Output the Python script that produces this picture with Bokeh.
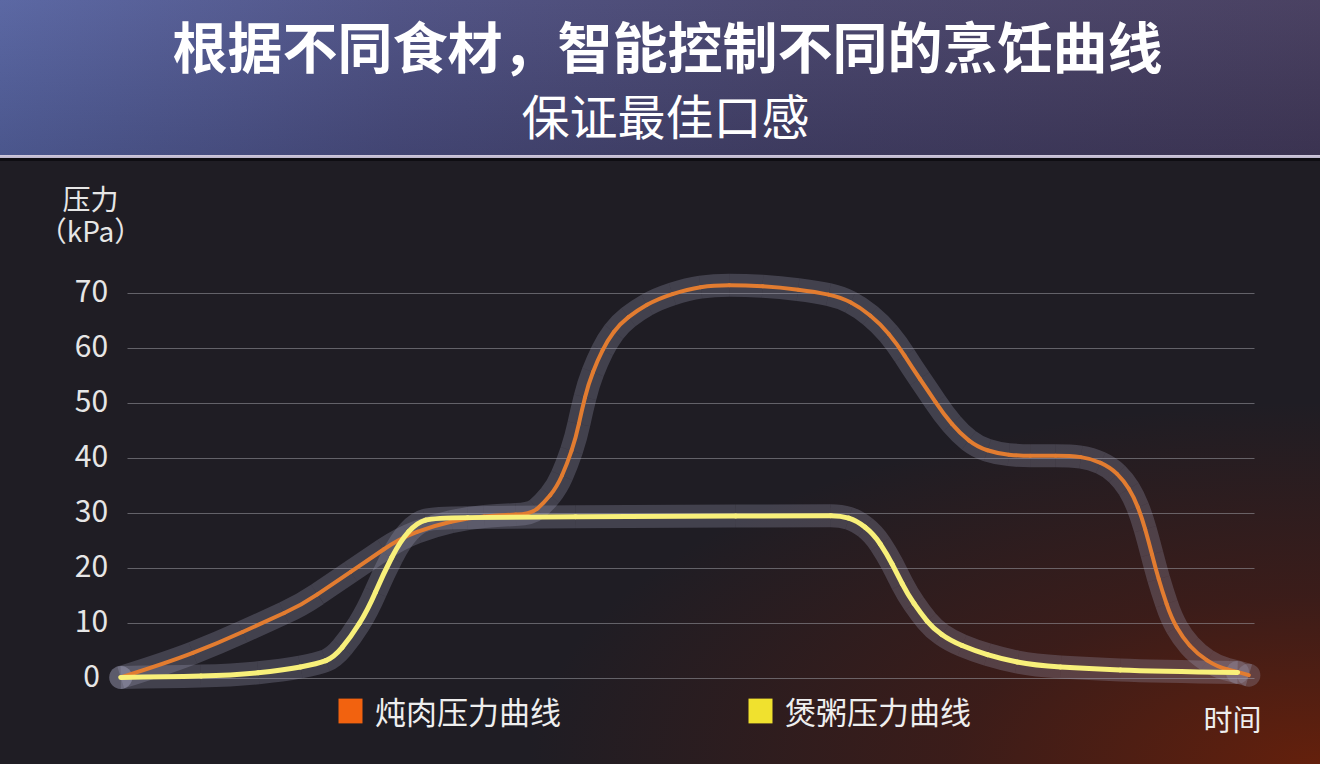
import numpy as np
from bokeh.plotting import figure
from bokeh.models import Label, Legend, LegendItem, Range1d
from bokeh.core.properties import value
from bokeh.embed import file_html
from bokeh.resources import INLINE

# 时间 (0-100) / 压力 (kPa)
stew_t = [-0.6, 3.6, 8.0, 12.4, 15.4, 18.3, 21.3, 24.2, 27.2, 30.2, 33.1, 35.8,
          36.9, 38.1, 39.0, 39.8, 40.3, 40.9, 41.7, 42.6, 43.7, 45.2, 47.0, 49.7,
          52.0, 54.8, 57.9, 61.1, 63.3, 65.0, 66.8, 68.3, 69.6, 71.0, 72.4, 73.9,
          75.4, 77.2, 79.2, 81.0, 83.7, 85.5, 87.2, 88.4, 89.3, 90.0, 90.6, 91.2,
          91.8, 92.6, 93.6, 94.9, 96.7, 98.5, 99.5]
stew_p = [0.2, 2.9, 6.4, 10.5, 13.3, 17.3, 21.5, 25.5, 27.8, 29.2, 29.7, 29.9,
          31.8, 34.8, 39.0, 43.9, 48.7, 53.6, 57.8, 61.5, 64.5, 66.9, 69.0, 70.8,
          71.5, 71.5, 71.1, 70.3, 69.3, 67.5, 64.5, 60.8, 56.6, 52.4, 48.1, 44.5,
          42.1, 40.9, 40.5, 40.5, 40.5, 40.0, 38.4, 36.0, 33.0, 29.3, 25.0, 20.2,
          16.0, 11.1, 7.5, 4.5, 2.1, 1.2, 0.6]

porridge_t = [-0.6, 3.6, 9.4, 13.8, 16.9, 18.3, 19.8, 21.3, 22.7, 24.2, 25.7, 27.2,
              33.1, 46.4, 61.5, 63.3, 64.7, 66.2, 67.4, 68.3, 69.2, 70.4, 71.5, 73.0,
              75.1, 77.5, 80.4, 85.2, 91.0, 98.5]
porridge_p = [0.2, 0.3, 0.6, 1.5, 2.7, 3.8, 7.5, 12.4, 19.0, 25.0, 28.4, 29.2,
              29.3, 29.5, 29.6, 29.6, 28.7, 26.3, 22.6, 19.0, 15.4, 11.8, 9.1, 6.9,
              5.1, 3.6, 2.4, 1.8, 1.3, 1.1]

y_ticks = [0, 10, 20, 30, 40, 50, 60, 70]
y_tick_labels = [str(v) for v in y_ticks]
grid_start, grid_end = 0, 100

series_names = ["炖肉压力曲线", "煲粥压力曲线"]
line_colors = ["#e27c30", "#f8f07a"]
legend_colors = ["#f2620f", "#f0e12e"]

FONT = "Noto Sans CJK SC"
W, H = 1320, 764


# page pixel -> data coordinates, for placing texts
def tx(px):
    return (px - 127) / 11.27


def ty(py):
    return (678 - py) / 5.5


# smooth drawing of a polyline: quadratic pieces through the midpoints,
# the read points themselves act as control points
def smooth(xs, ys):
    mx = [(a + b) / 2 for a, b in zip(xs[:-1], xs[1:])]
    my = [(a + b) / 2 for a, b in zip(ys[:-1], ys[1:])]
    return dict(x0=[xs[0]] + mx[1:-1], y0=[ys[0]] + my[1:-1],
                x1=mx[1:-1] + [xs[-1]], y1=my[1:-1] + [ys[-1]],
                cx=xs[1:-1], cy=ys[1:-1])


p = figure(width=W, height=H, output_backend="svg", toolbar_location=None,
           x_range=Range1d(tx(0), tx(W)), y_range=Range1d(ty(H), ty(0)),
           x_axis_location=None, y_axis_location=None,
           min_border=0, min_border_left=0, min_border_right=0,
           min_border_top=0, min_border_bottom=0)

p.styles = {
    "background": (
        "linear-gradient(180deg, rgba(255,255,255,0.04), rgba(0,0,0,0.12)) 0 0/100% 155px no-repeat, "
        "linear-gradient(90deg, #5562a0 0%, #4b4e82 30%, #45426b 60%, #433a5c 100%) 0 0/100% 155px no-repeat, "
        "linear-gradient(#d2cbdf, #b9b2c8) 0 155px/100% 3px no-repeat, "
        "linear-gradient(#0e0d12, #0e0d12) 0 158px/100% 3px no-repeat, "
        "radial-gradient(ellipse 80% 80% at 100% 100%, rgba(100,32,12,1) 0%, rgba(68,28,22,0.75) 35%, rgba(31,29,36,0) 75%) 0 161px/100% 603px no-repeat, "
        "#1f1d24"
    )
}
p.border_fill_alpha = 0
p.background_fill_alpha = 0
p.outline_line_color = None
p.grid.visible = False

# header
p.add_layout(Label(x=tx(667), y=ty(43), text="根据不同食材，智能控制不同的烹饪曲线",
                   text_align="center", text_baseline="middle", text_font=FONT,
                   text_font_size="55px", text_font_style="bold", text_color="#ffffff"))
p.add_layout(Label(x=tx(665), y=ty(113), text="保证最佳口感",
                   text_align="center", text_baseline="middle", text_font=FONT,
                   text_font_size="48px", text_color="#ffffff"))

# y axis labels and name
p.text(x=[tx(91)] * len(y_ticks), y=y_ticks, text=y_tick_labels, y_offset=-3,
       text_align="center", text_baseline="middle", text_font=value(FONT),
       text_font_size="30px", text_color="#e6e6e6")
for txt, py in [("压力", 197), ("（kPa）", 229)]:
    p.add_layout(Label(x=tx(90), y=ty(py), text=txt, text_align="center", text_baseline="middle",
                       text_font=FONT, text_font_size="28px", text_color="#e6e6e6"))

# grid lines
p.segment(x0=[grid_start] * len(y_ticks), x1=[grid_end] * len(y_ticks), y0=y_ticks, y1=y_ticks,
          line_color="#9a9aa2", line_alpha=0.55, line_width=1)

# glow bands
for t, v in [(stew_t, stew_p), (porridge_t, porridge_p)]:
    p.quadratic(line_color="#a4a4bc", line_alpha=0.27, line_width=23,
                line_cap="butt", **smooth(t, v))
    p.scatter([t[0], t[-1]], [v[0], v[-1]], size=23, marker="circle",
              fill_color="#a4a4bc", fill_alpha=0.27, line_color=None)

p.quadratic(line_color=line_colors[0], line_width=4, line_cap="round", **smooth(stew_t, stew_p))
p.quadratic(line_color=line_colors[1], line_width=5, line_cap="round", **smooth(porridge_t, porridge_p))

# legend (swatch renderers hold no visible point)
items = []
for name, c in zip(series_names, legend_colors):
    nan = [np.nan]
    r = p.quad(left=nan, right=nan, top=nan, bottom=nan, fill_color=c, line_color=None)
    items.append(LegendItem(label=name, renderers=[r]))
legend = Legend(items=items, location=(335, 31), orientation="horizontal",
                glyph_width=30, glyph_height=31, label_height=31, label_standoff=10,
                spacing=184, padding=0, margin=0, border_line_color=None,
                background_fill_alpha=0, label_text_font=FONT,
                label_text_font_size="31px", label_text_color="#eeeeee")
p.add_layout(legend)

p.add_layout(Label(x=tx(1232), y=ty(717), text="时间", text_align="center", text_baseline="middle",
                   text_font=FONT, text_font_size="29px", text_color="#eeeeee"))

open("out.html", "w").write(file_html(p, INLINE))
